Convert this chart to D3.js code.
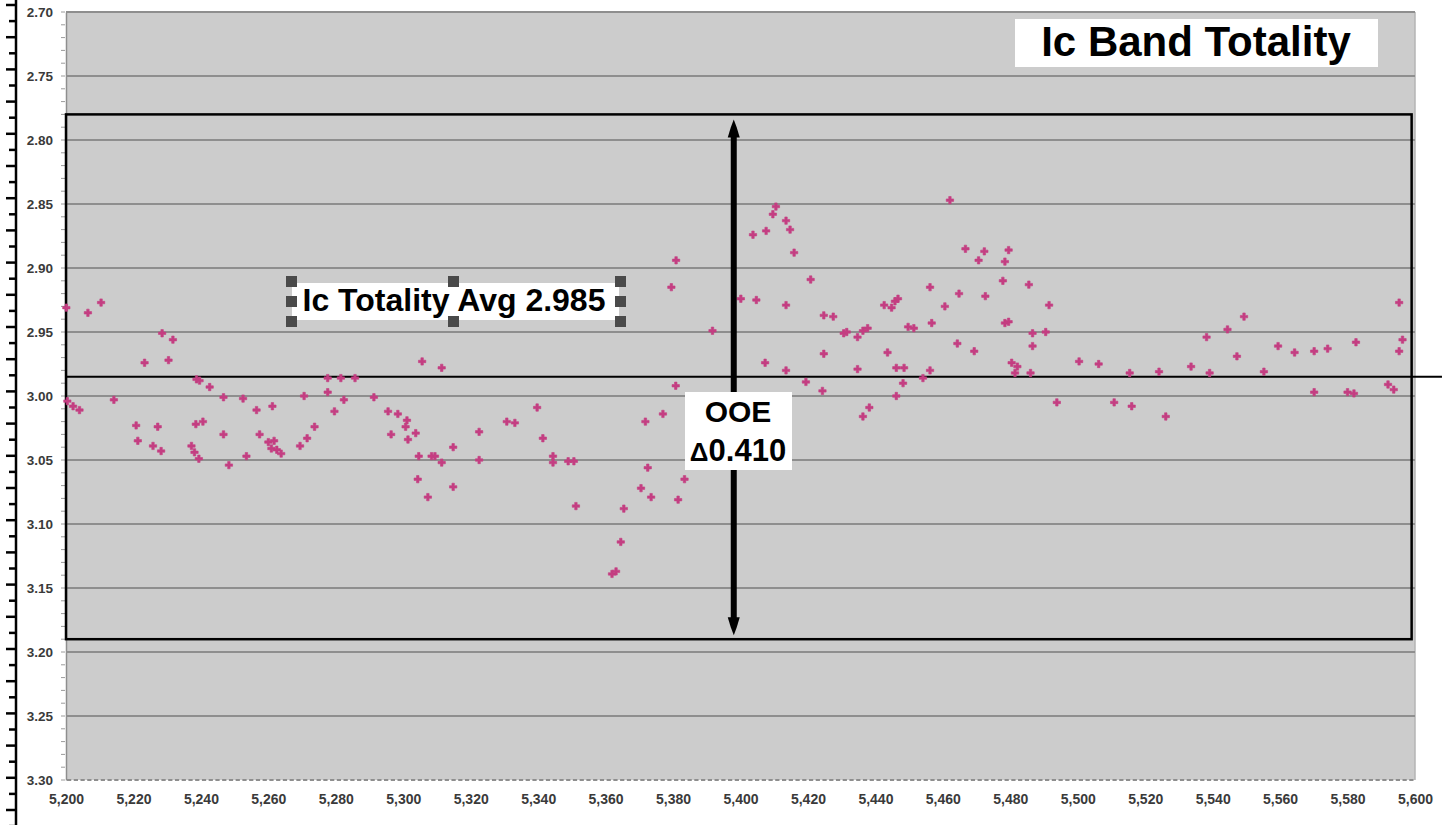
<!DOCTYPE html>
<html>
<head>
<meta charset="utf-8">
<script src="https://cdn.jsdelivr.net/npm/d3@7/dist/d3.min.js"></script>
<style>
  body { margin: 0; background: #fff; }
  svg text { font-family: "Liberation Sans", Arial, sans-serif; }
</style>
</head>
<body>
<div id="chart"></div>
<script>
const jd = [
  5200.1, 5206.5, 5210.4, 5200.4, 5202.1, 5204.0, 5214.2, 5228.5, 5231.7, 5223.3,
  5230.4, 5220.8, 5227.2, 5221.3, 5225.8, 5228.2, 5238.7, 5239.6, 5242.6, 5246.7,
  5252.5, 5256.5, 5261.2, 5238.5, 5240.6, 5237.2, 5238.1, 5239.4, 5246.7, 5248.3,
  5253.5, 5257.4, 5260.0, 5261.7, 5260.9, 5262.5, 5263.8, 5269.4, 5271.5, 5273.7,
  5270.6, 5277.6, 5281.5, 5285.7, 5277.6, 5282.4, 5279.6, 5291.3, 5295.5, 5298.4,
  5301.1, 5300.7, 5296.4, 5301.4, 5303.7, 5305.6, 5311.4, 5304.6, 5308.4, 5309.4,
  5311.4, 5314.8, 5304.3, 5307.3, 5314.8, 5322.5, 5322.5, 5330.7, 5333.1, 5339.7,
  5341.4, 5344.4, 5344.4, 5348.9, 5350.6, 5351.2, 5365.4, 5364.5, 5361.9, 5363.1,
  5371.8, 5377.0, 5372.5, 5370.5, 5373.5, 5381.5, 5383.4, 5380.8, 5379.5, 5380.9,
  5391.7,
  5400.1, 5404.7, 5403.7, 5407.6, 5409.6, 5410.5, 5413.5, 5414.7, 5415.9, 5413.5,
  5407.3, 5413.5, 5420.8, 5424.7, 5427.5, 5419.4, 5424.7, 5424.3, 5430.6, 5431.5,
  5434.7, 5436.3, 5437.7, 5434.7, 5436.3, 5438.2, 5442.6, 5444.8, 5445.8, 5446.7,
  5443.6, 5446.2, 5448.5, 5448.2, 5446.2, 5449.7, 5451.4, 5454.1, 5456.2, 5456.7,
  5456.2, 5460.6, 5462.1, 5464.3, 5464.8, 5466.7, 5469.3, 5470.6, 5472.3, 5472.6,
  5477.8, 5478.4, 5479.5, 5478.4, 5479.5, 5485.5, 5480.4, 5482.1, 5481.4, 5486.6,
  5486.6, 5486.0, 5490.5, 5491.5, 5493.8, 5500.4, 5506.2, 5510.8, 5515.4, 5516.0,
  5524.1, 5526.1, 5533.6, 5538.2, 5539.1, 5544.4, 5547.2, 5549.3, 5555.2, 5559.4,
  5564.3, 5570.1, 5574.1, 5570.1, 5580.0, 5581.9, 5582.5, 5592.0, 5593.7, 5595.3,
  5595.3, 5596.3
];

// Ic magnitudes, same order as jd
const mag = [
  2.931, 2.935, 2.927, 3.004, 3.008, 3.011, 3.003, 2.951, 2.956, 2.974,
  2.972, 3.023, 3.024, 3.035, 3.039, 3.043, 2.987, 2.988, 2.993, 3.001,
  3.002, 3.011, 3.008, 3.022, 3.020, 3.039, 3.044, 3.049, 3.030, 3.054,
  3.047, 3.030, 3.036, 3.035, 3.041, 3.042, 3.045, 3.039, 3.033, 3.024,
  3.000, 2.986, 2.986, 2.986, 2.997, 3.003, 3.012, 3.001, 3.012, 3.014,
  3.019, 3.024, 3.030, 3.034, 3.029, 2.973, 2.978, 3.047, 3.047, 3.047,
  3.052, 3.040, 3.065, 3.079, 3.071, 3.028, 3.050, 3.020, 3.021, 3.009,
  3.033, 3.047, 3.052, 3.051, 3.051, 3.086, 3.088, 3.114, 3.139, 3.137,
  3.020, 3.014, 3.056, 3.072, 3.079, 3.081, 3.065, 2.992, 2.915, 2.894,
  2.949,
  2.924, 2.925, 2.874, 2.871, 2.858, 2.852, 2.863, 2.870, 2.888, 2.929,
  2.974, 2.980, 2.909, 2.937, 2.938, 2.989, 2.967, 2.996, 2.951, 2.950,
  2.954, 2.949, 2.947, 2.979, 3.016, 3.009, 2.929, 2.931, 2.926, 2.924,
  2.966, 2.978, 2.978, 2.990, 3.000, 2.946, 2.947, 2.986, 2.915, 2.943,
  2.980, 2.930, 2.847, 2.959, 2.920, 2.885, 2.965, 2.894, 2.887, 2.922,
  2.910, 2.895, 2.886, 2.943, 2.942, 2.913, 2.974, 2.977, 2.982, 2.951,
  2.961, 2.982, 2.950, 2.929, 3.005, 2.973, 2.975, 3.005, 2.982, 3.008,
  2.981, 3.016, 2.977, 2.954, 2.982, 2.948, 2.969, 2.938, 2.981, 2.961,
  2.966, 2.965, 2.963, 2.997, 2.997, 2.998, 2.958, 2.991, 2.995, 2.927,
  2.965, 2.956
];

// Axis ticks
const xTicks = d3.range(5200, 5601, 20);
const yTicks = d3.range(0, 13).map((i) => 2.70 + i * 0.05);

// Annotation values
const avgMag = 2.985;
const avgLineEnd = 5608;
const boxTop = 2.78;
const boxBottom = 3.19;
const boxStart = 5200;
const boxEnd = 5599;
const arrowAt = 5398;
const titleText = "Ic Band Totality";
const avgLabel = "Ic Totality Avg 2.985";
const ooeLines = ["OOE", "\u0394", "0.410"];

function draw(container) {
  const width = 1453;
  const height = 825;
  const margin = ({top: 12, right: 38, bottom: 45, left: 66});

  const x = d3.scaleLinear()
    .domain([5200, 5600])
    .range([margin.left, width - margin.right]);

  const y = d3.scaleLinear()
    .domain([2.70, 3.30])
    .range([margin.top, height - margin.bottom]);

  const svg = d3.select(container).append("svg")
    .attr("width", width)
    .attr("height", height);

  /* **************************************
   * Ruler strip on the far left
   **************************************** */
  const ruler = d3.scaleLinear().domain([0, 52]).range([5, 5 + 52 * 16.1]);
  const rg = svg.append("g");
  rg.append("line")
    .attr("x1", 16).attr("x2", 16)
    .attr("y1", 0).attr("y2", height)
    .attr("stroke", "#000").attr("stroke-width", 2.5);
  rg.selectAll("line.tick")
    .data(d3.range(0, 52))
    .join("line")
      .attr("class", "tick")
      .attr("x1", (d) => d % 2 ? 9 : 6)
      .attr("x2", 16)
      .attr("y1", (d) => ruler(d))
      .attr("y2", (d) => ruler(d))
      .attr("stroke", "#000").attr("stroke-width", 2.5);

  /* **************************************
   * Plot area and grid
   **************************************** */
  svg.append("rect")
    .attr("x", x(5200)).attr("y", y(2.70))
    .attr("width", x(5600) - x(5200))
    .attr("height", y(3.30) - y(2.70))
    .attr("fill", "#cccccc");

  svg.append("line")
    .attr("x1", x(5600)).attr("x2", x(5600))
    .attr("y1", y(2.70)).attr("y2", y(3.30))
    .attr("stroke", "#b4b4b4").attr("stroke-width", 1.5);

  svg.append("g")
    .selectAll("line")
    .data(yTicks.slice(0, -1))
    .join("line")
      .attr("x1", x(5200)).attr("x2", x(5600))
      .attr("y1", (d) => y(d)).attr("y2", (d) => y(d))
      .attr("stroke", "#8e8e8e").attr("stroke-width", 2);

  // y axis: labels plus minor ticks every 0.01
  const yAxis = g => g
      .attr("transform", `translate(${margin.left},0)`)
      .call(d3.axisLeft(y)
          .tickValues(yTicks)
          .tickFormat(d3.format(".2f"))
          .tickSize(0)
          .tickPadding(13))
      .call(g => g.select(".domain").attr("stroke", "#8e8e8e").attr("stroke-width", 1.5))
      .call(g => g.selectAll(".tick text")
          .attr("fill", "#3a3a3a")
          .attr("font-family", "DejaVu Sans")
          .attr("font-weight", "bold")
          .attr("font-size", 13.5));

  svg.append("g").call(yAxis);

  svg.append("g")
    .selectAll("line")
    .data(d3.range(0, 61).map((i) => 2.70 + i * 0.01))
    .join("line")
      .attr("x1", margin.left - 5).attr("x2", margin.left - 1)
      .attr("y1", (d) => y(d)).attr("y2", (d) => y(d))
      .attr("stroke", "#9a9a9a").attr("stroke-width", 1);

  // x axis: labels plus minor ticks every 2 units
  const xAxis = g => g
      .attr("transform", `translate(0,${y(3.30)})`)
      .call(d3.axisBottom(x)
          .tickValues(xTicks)
          .tickFormat(d3.format(","))
          .tickSize(0)
          .tickPadding(14))
      .call(g => g.select(".domain").remove())
      .call(g => g.selectAll(".tick text")
          .attr("fill", "#3a3a3a")
          .attr("font-family", "DejaVu Sans")
          .attr("font-weight", "bold")
          .attr("font-size", 14));

  svg.append("g").call(xAxis);

  svg.append("g")
    .selectAll("line")
    .data(d3.range(5200, 5600, 2))
    .join("line")
      .attr("x1", (d) => x(d) + 1).attr("x2", (d) => x(d + 2) - 1.5)
      .attr("y1", y(3.30)).attr("y2", y(3.30))
      .attr("stroke", "#8e8e8e").attr("stroke-width", 2);

  /* **************************************
   * Totality box and average line
   **************************************** */
  svg.append("rect")
    .attr("x", x(boxStart)).attr("y", y(boxTop))
    .attr("width", x(boxEnd) - x(boxStart))
    .attr("height", y(boxBottom) - y(boxTop))
    .attr("fill", "none")
    .attr("stroke", "#000").attr("stroke-width", 2.5);

  svg.append("line")
    .attr("x1", x(5200)).attr("x2", x(avgLineEnd))
    .attr("y1", y(avgMag)).attr("y2", y(avgMag))
    .attr("stroke", "#000").attr("stroke-width", 2);

  /* **************************************
   * Data points
   **************************************** */
  const cross = d3.symbol().type(d3.symbolCross).size(30);
  svg.append("g")
    .attr("fill", "#c43e82")
    .attr("stroke", "#c43e82")
    .attr("stroke-width", 0.6)
    .selectAll("path")
    .data(d3.zip(jd, mag))
    .join("path")
      .attr("transform", (d) => `translate(${x(d[0])},${y(d[1])})`)
      .attr("d", cross);

  /* **************************************
   * Double arrow across the box
   **************************************** */
  const ax = x(arrowAt);
  const top = y(boxTop) + 5;
  const bot = y(boxBottom) - 4;
  svg.append("line")
    .attr("x1", ax).attr("x2", ax)
    .attr("y1", top + 12).attr("y2", bot - 12)
    .attr("stroke", "#000").attr("stroke-width", 6);
  svg.append("path")
    .attr("d", `M${ax},${top} L${ax + 3},${top + 8} L${ax + 6},${top + 18} L${ax - 6},${top + 18} L${ax - 3},${top + 8} Z`)
    .attr("fill", "#000");
  svg.append("path")
    .attr("d", `M${ax},${bot} L${ax + 3},${bot - 8} L${ax + 6},${bot - 18} L${ax - 6},${bot - 18} L${ax - 3},${bot - 8} Z`)
    .attr("fill", "#000");

  /* **************************************
   * Text boxes
   **************************************** */
  // OOE amplitude label
  svg.append("rect")
    .attr("x", 685).attr("y", 392)
    .attr("width", 107).attr("height", 78)
    .attr("fill", "#fff");
  svg.append("text")
    .attr("x", 738).attr("y", 422)
    .attr("text-anchor", "middle")
    .attr("font-size", 30)
    .attr("font-weight", "bold")
    .text(ooeLines[0]);
  const t2 = svg.append("text")
    .attr("x", 738).attr("y", 461)
    .attr("text-anchor", "middle")
    .attr("font-weight", "bold");
  t2.append("tspan").attr("font-size", 26).text(ooeLines[1]);
  t2.append("tspan").attr("font-size", 31).text(ooeLines[2]);

  // Title
  svg.append("rect")
    .attr("x", 1015).attr("y", 19)
    .attr("width", 363).attr("height", 48)
    .attr("fill", "#fff");
  svg.append("text")
    .attr("x", 1196).attr("y", 56)
    .attr("text-anchor", "middle")
    .attr("font-size", 42)
    .attr("font-weight", "bold")
    .text(titleText);

  // Average label with its selection handles
  svg.append("rect")
    .attr("x", 292).attr("y", 283)
    .attr("width", 327).attr("height", 37)
    .attr("fill", "#fff");
  svg.append("text")
    .attr("x", 454).attr("y", 311)
    .attr("text-anchor", "middle")
    .attr("font-size", 32)
    .attr("font-weight", "bold")
    .text(avgLabel);

  const handles = [[291, 281], [291, 301], [291, 321], [453, 281], [453, 321], [620, 281], [620, 301], [620, 321]];
  svg.append("g")
    .selectAll("rect")
    .data(handles)
    .join("rect")
      .attr("x", (d) => d[0] - 5).attr("y", (d) => d[1] - 5)
      .attr("width", 11).attr("height", 11)
      .attr("fill", "#4a4a4a");

  return svg.node();
}

draw("#chart");
</script>
</body>
</html>
